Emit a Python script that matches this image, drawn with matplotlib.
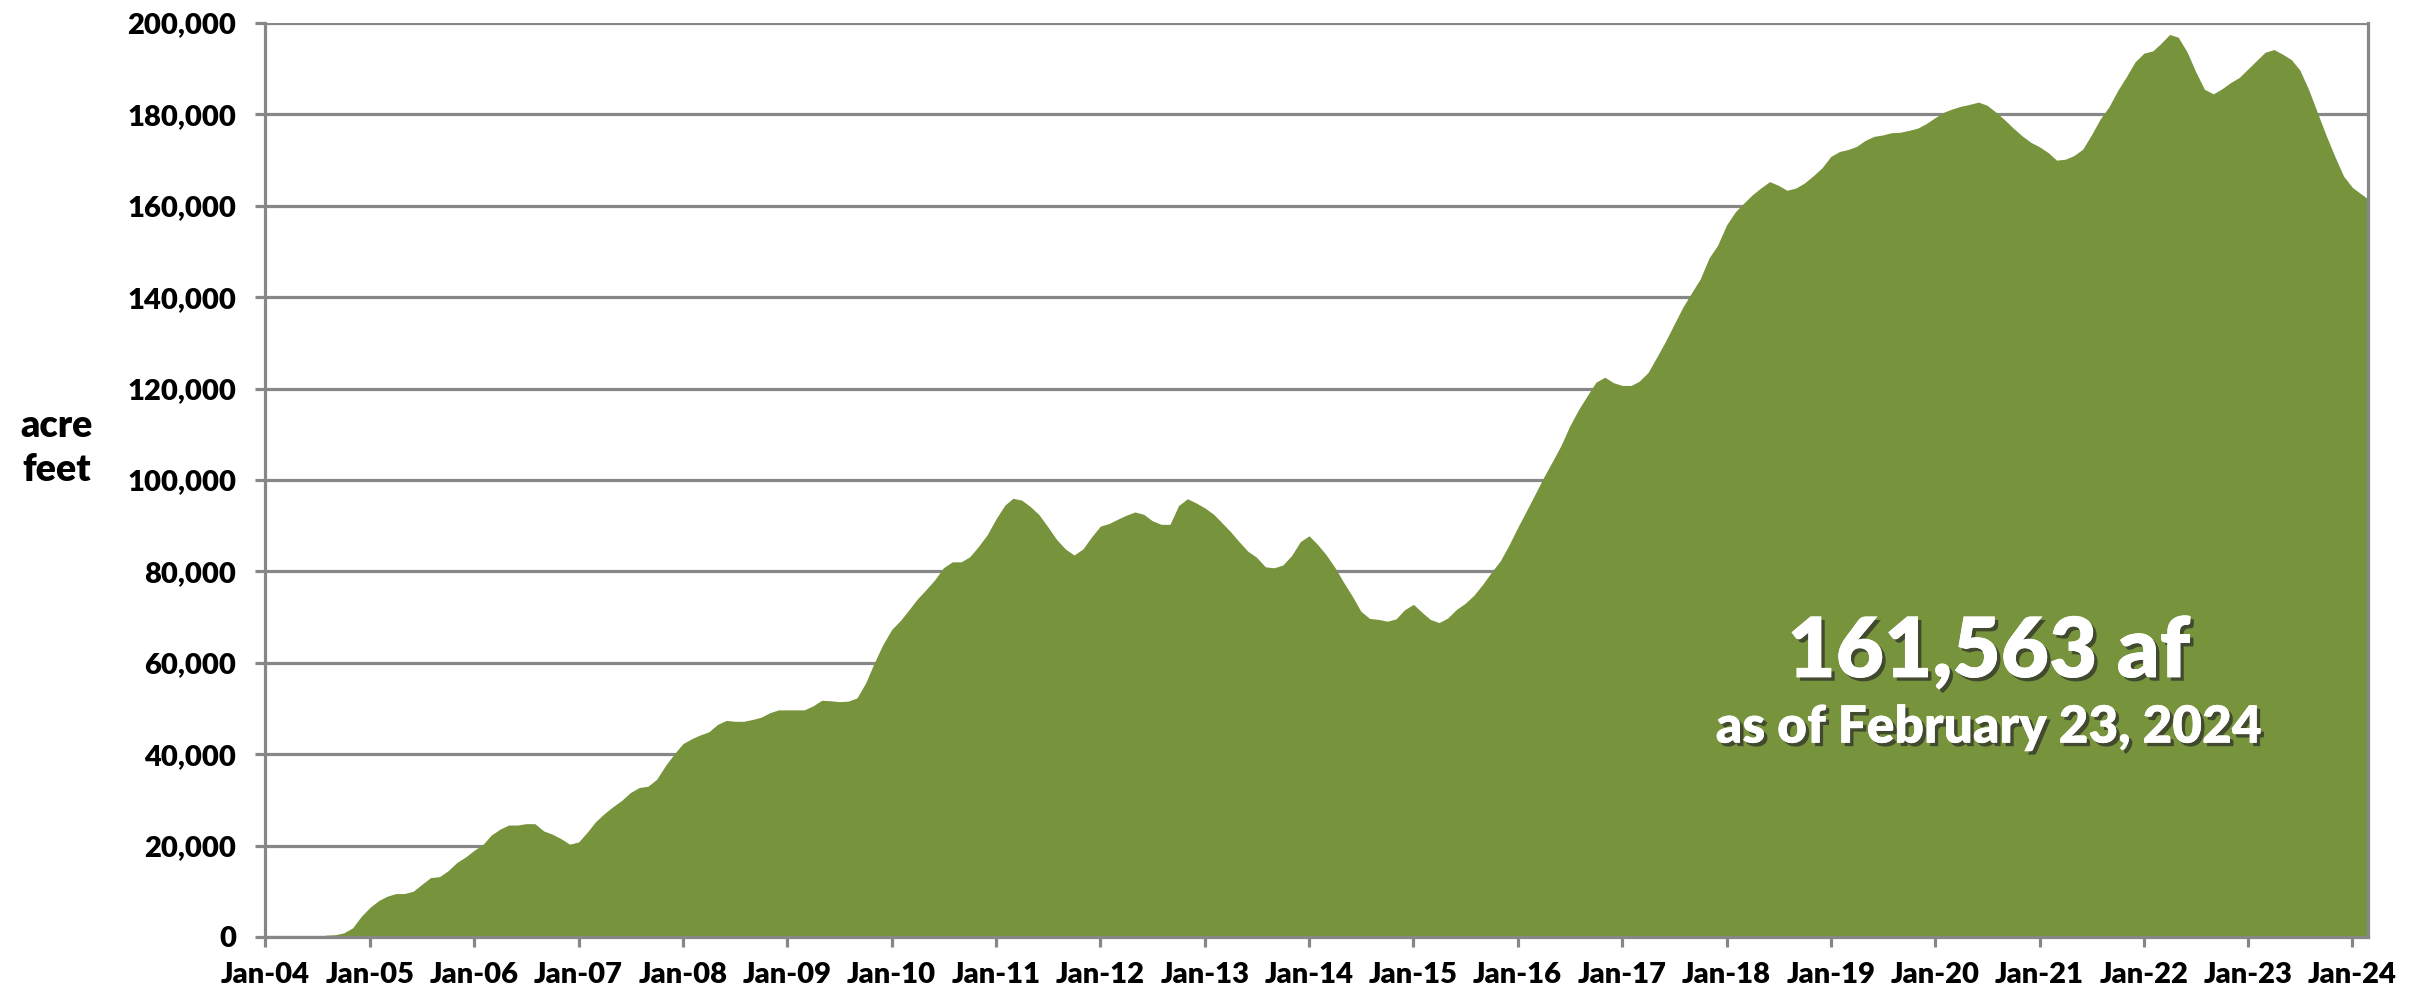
import matplotlib
matplotlib.use("Agg")
import matplotlib.pyplot as plt
import matplotlib.dates as mdates
import matplotlib.patheffects as pe
import pandas as pd

plt.rcParams['font.family'] = ['Lato', 'DejaVu Sans']
plt.rcParams['font.weight'] = 'heavy'

# monthly storage (acre feet), Jan 2004 .. Jan 2024, then last reading
storage = [
    0, 0, 0, 0, 0, 0, 0, 400, 500, 900, 2000, 4500,                      # 2004
    6500, 8000, 8900, 9500, 9500, 10000, 11500, 13000, 13200, 14500, 16300, 17500,   # 2005
    19000, 20300, 22300, 23600, 24500, 24500, 24800, 24800, 23200, 22500, 21500, 20300,  # 2006
    20800, 23000, 25200, 27000, 28500, 29900, 31600, 32700, 33000, 34500, 37500, 40000,  # 2007
    42300, 43400, 44200, 44900, 46500, 47400, 47200, 47200, 47600, 48100, 49100, 49700,  # 2008
    49700, 49700, 49700, 50600, 51800, 51700, 51500, 51600, 52300, 55500, 60000, 64000,  # 2009
    67300, 69300, 71500, 74000, 76000, 78200, 80800, 82100, 82100, 83200, 85500, 88000,  # 2010
    91500, 94500, 96000, 95600, 94200, 92400, 89800, 87000, 84900, 83600, 84900, 87500,  # 2011
    89900, 90500, 91400, 92300, 93000, 92500, 91100, 90300, 90300, 94400, 95900, 95000,  # 2012
    93900, 92500, 90700, 88700, 86500, 84400, 83100, 81000, 80800, 81400, 83500, 86500,  # 2013
    87800, 85800, 83700, 80900, 77700, 74600, 71300, 69700, 69500, 69100, 69600, 71600,  # 2014
    72800, 71000, 69500, 68800, 69800, 71700, 73000, 74800, 77200, 79800, 82300, 85700,  # 2015
    89600, 93300, 96800, 100600, 104000, 107600, 111800, 115400, 118500, 121400, 122500, 121300,  # 2016
    120700, 120700, 121600, 123500, 126800, 130300, 134000, 137800, 141000, 144000, 148600, 151400,  # 2017
    155800, 158700, 160500, 162400, 163900, 165300, 164500, 163400, 163900, 165000, 166600, 168300,  # 2018
    170800, 171900, 172300, 173000, 174300, 175200, 175500, 176000, 176100, 176500, 177000, 178000,  # 2019
    179300, 180500, 181200, 181800, 182200, 182700, 182000, 180500, 178800, 177000, 175300, 173900,  # 2020
    172900, 171600, 170000, 170200, 171000, 172400, 175500, 179000, 181700, 185200, 188300, 191500,  # 2021
    193400, 193900, 195500, 197500, 196900, 193700, 189400, 185500, 184500, 185600, 187000, 188100,  # 2022
    190000, 191900, 193600, 194200, 193200, 192000, 189700, 185400, 180300, 175400, 170700, 166500,  # 2023
    164000,                                                                # Jan 2024
    161563,                                                                # Feb 23 2024
]
dates = list(pd.date_range('2004-01-01', '2024-01-01', freq='MS')) + [pd.Timestamp('2024-02-23')]

latest_label = '161,563 af'
as_of_label = 'as of February 23, 2024'

green = '#77933C'
grey = '#878787'

fig = plt.figure(figsize=(24.2, 9.93), dpi=100)
ax = fig.add_axes([0.1097, 0.0564, 0.869, 0.9204])

ax.fill_between(dates, storage, 0, color=green, linewidth=0, zorder=2)

ax.set_ylim(0, 200000)
ax.set_yticks(range(0, 200001, 20000))
ax.yaxis.set_major_formatter(matplotlib.ticker.FuncFormatter(lambda v, p: f'{int(v):,}'))
ax.set_xlim(pd.Timestamp('2004-01-01'), pd.Timestamp('2024-02-26'))
ax.xaxis.set_major_locator(mdates.YearLocator())
ax.xaxis.set_major_formatter(mdates.DateFormatter('%b-%y'))

ax.grid(axis='y', color=grey, linewidth=2.3, zorder=0)
ax.set_axisbelow(True)
for side in ['left', 'bottom', 'right', 'top']:
    ax.spines[side].set_color(grey)
    ax.spines[side].set_linewidth(2.3)
ax.spines['top'].set_visible(False)

ax.tick_params(axis='y', length=7, width=2.3, color=grey, pad=14, labelsize=21)
ax.tick_params(axis='x', length=7, width=2.3, color=grey, pad=11, labelsize=21)
for lab in ax.get_xticklabels() + ax.get_yticklabels():
    lab.set_fontweight('heavy')

fig.text(0.0235, 0.549, 'acre\nfeet', ha='center', va='center', fontsize=27,
         fontweight='heavy', linespacing=1.35)

shadow = [pe.withSimplePatchShadow(offset=(2.5, -2.5), shadow_rgbFace='#2a2a2a', alpha=0.7),
          pe.Normal()]
ax.text(0.8195, 0.311, latest_label, transform=ax.transAxes, ha='center', va='center',
        color='white', fontsize=60, fontweight='heavy', path_effects=shadow)
ax.text(0.8195, 0.229, as_of_label, transform=ax.transAxes, ha='center', va='center',
        color='white', fontsize=37, fontweight='heavy', path_effects=shadow)

fig.savefig('out.png', dpi=100)
